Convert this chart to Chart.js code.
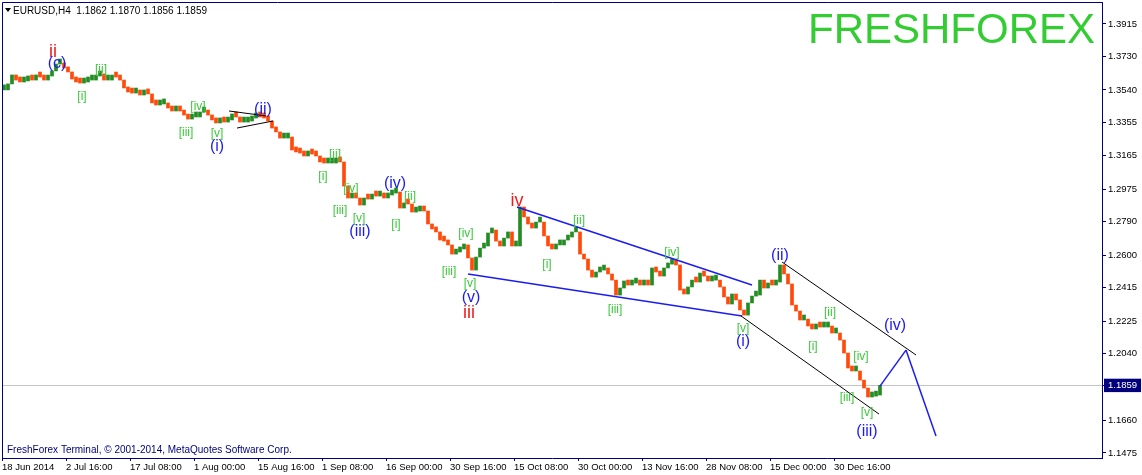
<!DOCTYPE html>
<html>
<head>
<meta charset="utf-8">
<script src="https://cdn.jsdelivr.net/npm/chart.js@4.4.1/dist/chart.umd.min.js"></script>
<style>
  html, body { margin: 0; padding: 0; background: #fff; }
</style>
</head>
<body>
<canvas id="chart" width="1142" height="475"></canvas>
<script>
// EURUSD H4 closes, one every 4 bars
var closes = [
  1.3540,1.3574,1.3625,1.3596,1.3585,1.3591,1.3602,1.3596,1.3625,1.3613,
  1.3596,1.3619,1.3648,1.3687,1.3693,1.3665,1.3642,1.3602,1.3585,1.3579,
  1.3585,1.3596,1.3596,1.3619,1.3631,1.3596,1.3596,1.3619,1.3613,1.3596,
  1.3551,1.3528,1.3522,1.3522,1.3511,1.3528,1.3517,1.3466,1.3454,1.3460,
  1.3460,1.3437,1.3420,1.3426,1.3420,1.3397,1.3374,1.3386,1.3386,1.3414,
  1.3414,1.3397,1.3369,1.3352,1.3380,1.3357,1.3369,1.3403,1.3386,1.3357,
  1.3357,1.3363,1.3380,1.3392,1.3386,1.3380,1.3363,1.3323,1.3301,1.3266,
  1.3266,1.3272,1.3198,1.3187,1.3181,1.3164,1.3187,1.3175,1.3164,1.3130,
  1.3124,1.3124,1.3124,1.3136,1.3130,1.2993,1.2925,1.2948,1.2925,1.2885,
  1.2925,1.2919,1.2942,1.2936,1.2936,1.2925,1.2942,1.2953,1.2959,1.2868,
  1.2897,1.2891,1.2845,1.2851,1.2868,1.2851,1.2777,1.2749,1.2732,1.2686,
  1.2680,1.2658,1.2606,1.2618,1.2635,1.2658,1.2584,1.2515,1.2589,1.2640,
  1.2652,1.2726,1.2743,1.2680,1.2652,1.2697,1.2732,1.2652,1.2652,1.2874,
  1.2817,1.2777,1.2754,1.2788,1.2788,1.2709,1.2652,1.2635,1.2658,1.2658,
  1.2686,1.2703,1.2732,1.2732,1.2606,1.2578,1.2515,1.2475,1.2504,1.2515,
  1.2527,1.2493,1.2458,1.2373,1.2413,1.2453,1.2430,1.2441,1.2458,1.2430,
  1.2447,1.2430,1.2527,1.2504,1.2481,1.2527,1.2549,1.2549,1.2544,1.2401,
  1.2379,1.2419,1.2458,1.2447,1.2498,1.2481,1.2453,1.2458,1.2458,1.2419,
  1.2362,1.2322,1.2379,1.2345,1.2288,1.2259,1.2328,1.2367,1.2373,1.2458,
  1.2413,1.2441,1.2430,1.2447,1.2544,1.2493,1.2436,1.2316,1.2282,1.2231,
  1.2236,1.2197,1.2180,1.2202,1.2191,1.2191,1.2197,1.2157,1.2157,1.2117,
  1.2043,1.1958,1.1941,1.1941,1.1889,1.1844,1.1793,1.1798,1.1804,1.1859
];
var firstBar = 2;
var barStep = 4;

var tickBars = [0, 64, 128, 192, 256, 320, 384, 448, 512, 576, 640, 704, 768, 832];
var tickDates = ['18 Jun 2014', '2 Jul 16:00', '17 Jul 08:00', '1 Aug 00:00', '15 Aug 16:00',
  '1 Sep 08:00', '16 Sep 00:00', '30 Sep 16:00', '15 Oct 08:00', '30 Oct 00:00',
  '13 Nov 16:00', '28 Nov 08:00', '15 Dec 00:00', '30 Dec 16:00'];
var priceTicks = [1.3915, 1.3730, 1.3540, 1.3355, 1.3165, 1.2975, 1.2790, 1.2600,
  1.2415, 1.2225, 1.2040, 1.1660, 1.1475];
var lastOHLC = [1.1862, 1.1870, 1.1856, 1.1859];
var lastClose = lastOHLC[3];

// wave marks: text, bar, price, kind
var waveLabels = [
  ['ii', 51, 1.3756, 'red'], ['iv', 515, 1.2908, 'red'], ['iii', 467, 1.2271, 'red'],
  ['(c)', 55, 1.3687, 'blue'], ['(i)', 215, 1.3215, 'blue'], ['(ii)', 261, 1.3426, 'blue'],
  ['(iii)', 358, 1.2732, 'blue'], ['(iv)', 393, 1.3005, 'blue'], ['(v)', 469, 1.2356, 'blue'],
  ['(i)', 741, 1.2106, 'blue'], ['(ii)', 778, 1.2595, 'blue'], ['(iii)', 865, 1.1599, 'blue'],
  ['(iv)', 893, 1.2202, 'blue'],
  ['[i]', 80, 1.3500, 'green'], ['[ii]', 99, 1.3653, 'green'], ['[iii]', 184, 1.3295, 'green'],
  ['[iv]', 196, 1.3443, 'green'], ['[v]', 215, 1.3289, 'green'],
  ['[i]', 321, 1.3044, 'green'], ['[ii]', 333, 1.3170, 'green'], ['[iii]', 338, 1.2851, 'green'],
  ['[iv]', 349, 1.2976, 'green'], ['[v]', 357, 1.2805, 'green'],
  ['[i]', 394, 1.2771, 'green'], ['[ii]', 408, 1.2931, 'green'], ['[iii]', 447, 1.2504, 'green'],
  ['[iv]', 464, 1.2720, 'green'], ['[v]', 468, 1.2436, 'green'],
  ['[i]', 545, 1.2544, 'green'], ['[ii]', 577, 1.2794, 'green'], ['[iii]', 613, 1.2288, 'green'],
  ['[iv]', 670, 1.2612, 'green'], ['[v]', 741, 1.2180, 'green'],
  ['[i]', 811, 1.2077, 'green'], ['[ii]', 828, 1.2271, 'green'], ['[iii]', 845, 1.1787, 'green'],
  ['[iv]', 859, 1.2020, 'green'], ['[v]', 865, 1.1702, 'green']
];

// channel / projection lines: bar1, price1, bar2, price2, kind
var trendLines = [
  [227, 1.3420, 264, 1.3392, 'black'], [235, 1.3323, 271, 1.3363, 'black'],
  [515, 1.2874, 750, 1.2430, 'blue'], [466, 1.2493, 740, 1.2254, 'blue'],
  [780, 1.2561, 914, 1.2032, 'black'], [739, 1.2254, 877, 1.1696, 'black'],
  [878, 1.1855, 904, 1.2060, 'blue'], [904, 1.2060, 934, 1.1571, 'blue']
];

var navy = '#00007c';
var upColor = '#238c23';
var downColor = '#ff4a0a';
var font = "'Liberation Sans', Arial, sans-serif";
var kindColor = { red: '#f01c1c', blue: '#1c1cf2', green: '#3cc83c', black: '#000000' };

var bars = closes.map(function (c, i) {
  return { x: firstBar + i * barStep, y: [i ? closes[i - 1] : c, c] };
});

var framePlugin = {
  id: 'frame',
  afterDraw: function (chart) {
    var ctx = chart.ctx, a = chart.chartArea;
    ctx.save();
    ctx.strokeStyle = navy;
    ctx.lineWidth = 1;
    ctx.beginPath();
    ctx.moveTo(a.left + 0.5, a.bottom);
    ctx.lineTo(a.left + 0.5, a.top + 0.5);
    ctx.lineTo(a.right, a.top + 0.5);
    ctx.stroke();

    ctx.textBaseline = 'middle';
    ctx.textAlign = 'left';
    ctx.fillStyle = '#000';
    ctx.beginPath();
    ctx.moveTo(a.left + 3, a.top + 6);
    ctx.lineTo(a.left + 9, a.top + 6);
    ctx.lineTo(a.left + 6, a.top + 10);
    ctx.closePath();
    ctx.fill();
    ctx.font = '10px ' + font;
    ctx.fillText('EURUSD,H4  ' + lastOHLC.map(function (v) { return v.toFixed(4); }).join(' '), a.left + 11, a.top + 9);
    ctx.fillStyle = navy;
    ctx.fillText('FreshForex Terminal, \u00a9 2001-2014, MetaQuotes Software Corp.', a.left + 5, a.bottom - 8);

    ctx.fillStyle = '#33cc33';
    ctx.textBaseline = 'alphabetic';
    ctx.font = '42px ' + font;
    ctx.fillText('FRESHFOREX', 808, 43);
    ctx.restore();
  }
};

var wavePlugin = {
  id: 'waves',
  afterDatasetsDraw: function (chart) {
    var ctx = chart.ctx, xs = chart.scales.x, ys = chart.scales.y;
    ctx.save();
    trendLines.forEach(function (l) {
      ctx.strokeStyle = kindColor[l[4]];
      ctx.lineWidth = l[4] === 'blue' ? 1.5 : 1;
      ctx.beginPath();
      ctx.moveTo(xs.getPixelForValue(l[0]), ys.getPixelForValue(l[1]));
      ctx.lineTo(xs.getPixelForValue(l[2]), ys.getPixelForValue(l[3]));
      ctx.stroke();
    });
    ctx.textAlign = 'center';
    ctx.textBaseline = 'middle';
    waveLabels.forEach(function (w) {
      ctx.fillStyle = kindColor[w[3]];
      ctx.font = (w[3] === 'green' ? '12px ' : w[3] === 'red' ? '18px ' : '16px ') + font;
      ctx.fillText(w[0], xs.getPixelForValue(w[1]), ys.getPixelForValue(w[2]));
    });
    ctx.restore();
  }
};

new Chart(document.getElementById('chart'), {
  type: 'bar',
  data: {
    datasets: [{
      data: bars,
      barThickness: 3,
      minBarLength: 5,
      backgroundColor: function (c) {
        var r = c.raw;
        return r && r.y[1] < r.y[0] ? downColor : upColor;
      }
    }]
  },
  options: {
    responsive: false,
    animation: false,
    layout: { padding: { left: 2, top: 2, right: 0, bottom: 0 } },
    plugins: { legend: { display: false }, tooltip: { enabled: false } },
    scales: {
      x: {
        type: 'linear',
        min: 0,
        max: 1100,
        offset: false,
        grid: { drawOnChartArea: false, offset: false, tickLength: 3, tickColor: navy },
        border: { color: navy },
        afterBuildTicks: function (s) {
          s.ticks = tickBars.map(function (v) { return { value: v }; });
        },
        afterFit: function (s) {
          s.height = 17;
          s.paddingLeft = 0;
          s.paddingRight = 0;
        },
        ticks: {
          autoSkip: false,
          maxRotation: 0,
          align: 'start',
          padding: 1,
          color: '#000',
          font: { family: font, size: 9.5 },
          callback: function (v) { return tickDates[tickBars.indexOf(v)]; }
        }
      },
      y: {
        type: 'linear',
        position: 'right',
        min: 1.1446,
        max: 1.4040,
        beginAtZero: false,
        grid: {
          color: function (c) { return c.tick && c.tick.value === lastClose ? '#c4c4c4' : 'rgba(0,0,0,0)'; },
          tickLength: 4,
          tickColor: navy
        },
        border: { color: navy },
        afterBuildTicks: function (s) {
          s.ticks = priceTicks.concat([lastClose]).map(function (v) { return { value: v }; });
        },
        afterFit: function (s) {
          s.width = 40;
          s.paddingTop = 0;
          s.paddingBottom = 0;
        },
        ticks: {
          padding: 2,
          font: { family: font, size: 9.5 },
          color: function (c) { return c.tick && c.tick.value === lastClose ? '#fff' : '#000'; },
          showLabelBackdrop: function (c) { return !!(c.tick && c.tick.value === lastClose); },
          backdropColor: navy,
          backdropPadding: { top: 1, bottom: 1, left: 4, right: 4 },
          callback: function (v) { return v.toFixed(4); }
        }
      }
    }
  },
  plugins: [framePlugin, wavePlugin]
});
</script>
</body>
</html>
